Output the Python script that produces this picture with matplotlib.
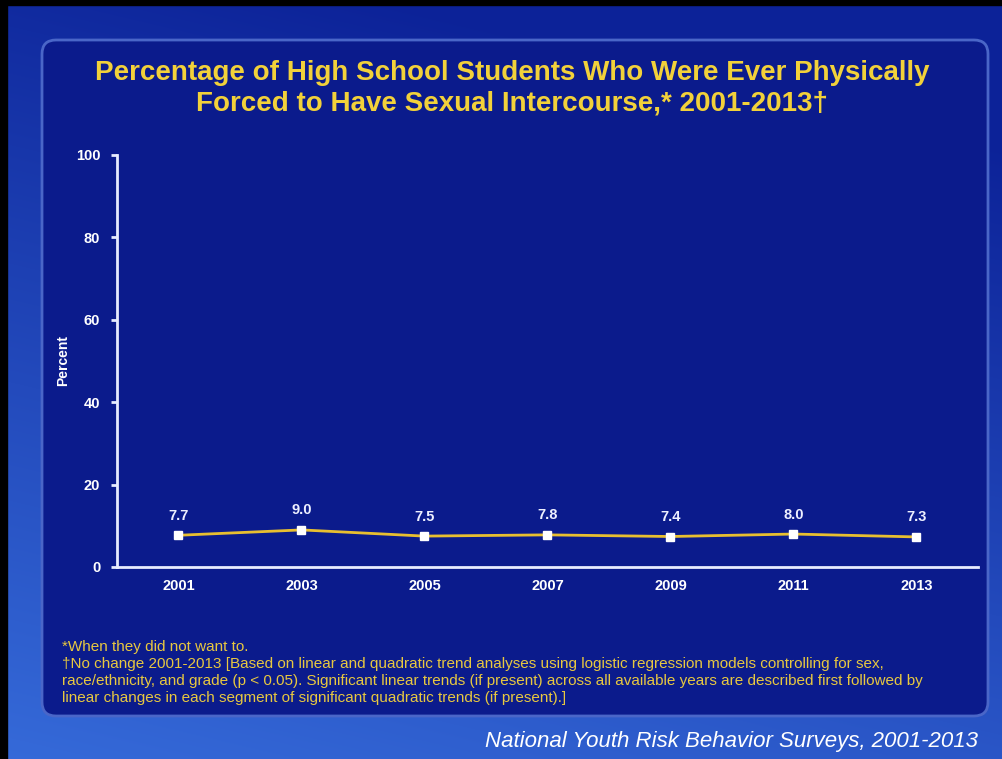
import numpy as np
import matplotlib
matplotlib.use("Agg")
import matplotlib.pyplot as plt
from matplotlib.patches import FancyBboxPatch, Rectangle

years = [2001, 2003, 2005, 2007, 2009, 2011, 2013]
values = [7.7, 9.0, 7.5, 7.8, 7.4, 8.0, 7.3]
value_labels = ["7.7", "9.0", "7.5", "7.8", "7.4", "8.0", "7.3"]
yticks = [0, 20, 40, 60, 80, 100]

title = ("Percentage of High School Students Who Were Ever Physically\n"
         "Forced to Have Sexual Intercourse,* 2001-2013\u2020")
footnotes = [
    "*When they did not want to.",
    "\u2020No change 2001-2013 [Based on linear and quadratic trend analyses using logistic regression models controlling for sex,",
    "race/ethnicity, and grade (p < 0.05). Significant linear trends (if present) across all available years are described first followed by",
    "linear changes in each segment of significant quadratic trends (if present).]",
]
source = "National Youth Risk Behavior Surveys, 2001-2013"

plt.rcParams['font.family'] = ['Liberation Sans', 'DejaVu Sans']

W, H = 1003, 759
fig = plt.figure(figsize=(W / 100, H / 100), dpi=100)

# background
bg = fig.add_axes([0, 0, 1, 1])
bg.set_xlim(0, W)
bg.set_ylim(H, 0)
bg.axis('off')
yy, xx = np.mgrid[0:H, 0:W]
t = np.clip((yy / H) * 0.8 + (1 - xx / W) * 0.25 - 0.15, 0, 1)
c0 = np.array([0x0c, 0x22, 0x98]) / 255
c1 = np.array([0x3a, 0x72, 0xe0]) / 255
img = c0[None, None, :] * (1 - t[..., None]) + c1[None, None, :] * t[..., None]
bg.imshow(img, extent=[0, W, H, 0], aspect='auto', zorder=0)
bg.add_patch(Rectangle((0, 0), W, 5, color='black', zorder=1))
bg.add_patch(Rectangle((0, 0), 7, H, color='black', zorder=1))
bg.add_patch(FancyBboxPatch((42, 40), 946, 676,
                            boxstyle="round,pad=0,rounding_size=14",
                            facecolor='#0b1b8c', edgecolor='#4a66c8',
                            linewidth=2, zorder=2))

fig.text(512 / W, 1 - 88 / H, title, ha='center', va='center',
         color='#f2d13a', fontsize=20, fontweight='bold', linespacing=1.22)

for i, line in enumerate(footnotes):
    fig.text(62 / W, 1 - (647 + i * 17) / H, line, ha='left', va='center',
             color='#e8c840', fontsize=11)

fig.text(978 / W, 1 - 742 / H, source, ha='right', va='center',
         color='white', fontsize=16, style='italic')

# chart
ax = fig.add_axes([117 / W, (H - 567) / H, (978 - 117) / W, (567 - 155) / H])
ax.patch.set_alpha(0)
ax.set_xlim(2000, 2014)
ax.set_ylim(0, 100)
ax.plot(years, values, color='#e8bf30', linewidth=2, zorder=3)
ax.plot(years, values, linestyle='none', marker='s', markersize=6,
        markerfacecolor='white', markeredgecolor='white', zorder=4)
for x, v, lab in zip(years, values, value_labels):
    ax.annotate(lab, (x, v), xytext=(0, 9), textcoords='offset points',
                ha='center', va='bottom', color='#eef0ff', fontsize=10.5,
                fontweight='bold')

for s in ['top', 'right']:
    ax.spines[s].set_visible(False)
for s in ['left', 'bottom']:
    ax.spines[s].set_color('#e8ecff')
    ax.spines[s].set_linewidth(2)
ax.set_yticks(yticks)
ax.set_xticks(years)
ax.tick_params(axis='y', colors='#e8ecff', labelcolor='white', length=4,
               width=2, direction='out', labelsize=10.5, pad=8)
ax.tick_params(axis='x', length=0, labelcolor='white', labelsize=10.5, pad=9)
for lab in ax.get_xticklabels() + ax.get_yticklabels():
    lab.set_fontweight('bold')
ax.set_ylabel('Percent', color='white', fontsize=10, fontweight='bold',
              labelpad=4)

fig.savefig('out.png', dpi=100)
